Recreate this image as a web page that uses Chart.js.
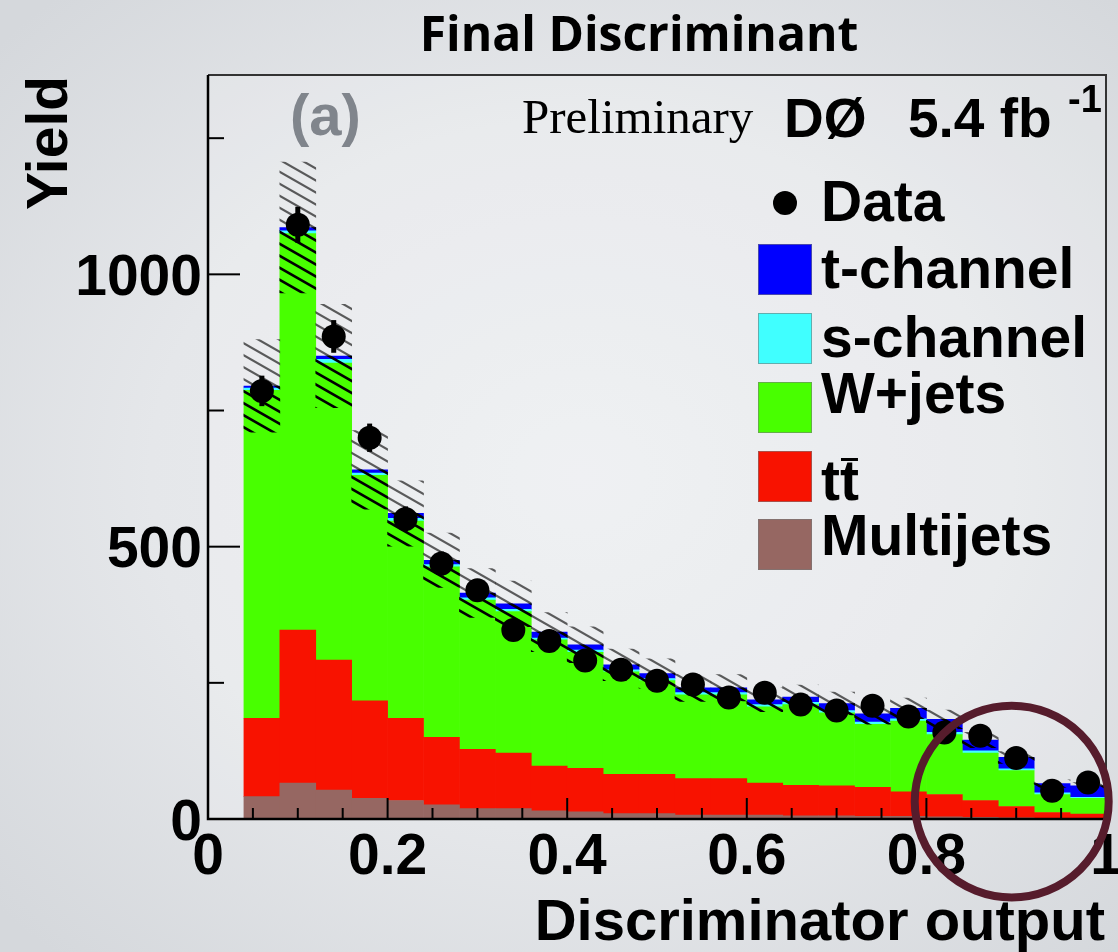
<!DOCTYPE html>
<html>
<head>
<meta charset="utf-8">
<script src="https://cdn.jsdelivr.net/npm/chart.js@4.4.0/dist/chart.umd.min.js"></script>
<style>
  html, body { margin: 0; padding: 0; width: 1118px; height: 952px; overflow: hidden; }
  body { background: radial-gradient(ellipse 70% 68% at 52% 50%, #eceef1 0%, #e5e7ea 55%, #d5d8dc 100%); }
  #wrap { position: relative; width: 1118px; height: 952px; }
  canvas { display: block; }
</style>
</head>
<body>
<div id="wrap"><canvas id="c" width="1118" height="952"></canvas></div>
<script>
// Discriminator bins (width 0.04, from 0.04 to 1.00), given by their centres
const binCenters = [0.06, 0.10, 0.14, 0.18, 0.22, 0.26, 0.30, 0.34, 0.38, 0.42, 0.46, 0.50,
                    0.54, 0.58, 0.62, 0.66, 0.70, 0.74, 0.78, 0.82, 0.86, 0.90, 0.94, 0.98];

// Expected yields per process (stacked bottom to top)
const multijets = [41, 66, 53, 38, 34, 26, 19, 19, 15, 13, 10, 10, 7, 7, 7, 6, 6, 5, 5, 4, 3, 2, 1, 1];
const ttbar     = [144, 281, 239, 179, 151, 124, 109, 102, 82, 80, 72, 72, 67, 67, 59, 56, 55, 53, 45, 41, 31, 21, 11, 8];
const wjets     = [602, 728, 545, 414, 362, 313, 274, 260, 232, 213, 188, 172, 154, 154, 140, 148, 134, 116, 130, 110, 87, 66, 33, 29];
const sChannel  = [4, 5, 7, 4, 5, 4, 4, 4, 3, 4, 4, 4, 4, 4, 4, 4, 4, 4, 4, 4, 4, 3, 3, 2];
const tChannel  = [4, 6, 6, 6, 9, 8, 9, 10, 11, 10, 9, 9, 9, 9, 9, 10, 13, 15, 19, 24, 20, 21, 17, 21];

// Systematic uncertainty on the total prediction (hatched band)
const modelUnc  = [85, 120, 95, 72, 60, 50, 45, 42, 36, 33, 29, 27, 25, 24, 22, 22, 21, 19, 19, 17, 14, 11, 7, 6];

// Observed events and their statistical errors
const dataCounts = [786, 1091, 886, 700, 551, 469, 420, 347, 327, 291, 274, 254, 247, 223, 232, 210, 199, 208, 188, 159, 153, 112, 52, 67];
const dataErrors = [28, 33, 30, 26, 23, 22, 20, 19, 18, 17, 17, 16, 16, 15, 15, 14, 14, 14, 14, 13, 12, 11, 7, 8];

// Axis ticks
const xTickValues = [0, 0.2, 0.4, 0.6, 0.8, 1];
const xTickLabels = ['0', '0.2', '0.4', '0.6', '0.8', '1'];
const yTickValues = [0, 500, 1000];
const yTickLabels = ['0', '500', '1000'];
const yMinorTicks = [250, 750, 1250];
const xMinorStep = 0.05;
const xRange = [0, 1];
const yRange = [0, 1366];

// Process names and colours, in stacking order
const seriesNames  = ['Multijets', 'tt\u0304', 'W+jets', 's-channel', 't-channel'];
const seriesColors = ['#966762', '#f81200', '#48ff00', '#40ffff', '#0000ff'];
const seriesValues = [multijets, ttbar, wjets, sChannel, tChannel];

// Region circled on the plot (in axis units)
const highlight = { x: 0.895, y: 32, rx: 0.108, ry: 176 };

const total = binCenters.map((_, i) => seriesValues.reduce((s, arr) => s + arr[i], 0));

const canvas = document.getElementById('c');
const ctx0 = canvas.getContext('2d');

function hatchPattern(color, width) {
  const w = 21, h = 12;
  const tile = document.createElement('canvas');
  tile.width = w; tile.height = h;
  const g = tile.getContext('2d');
  g.strokeStyle = color;
  g.lineWidth = width;
  for (let k = -1; k <= 1; k++) {
    g.beginPath();
    g.moveTo(-3, h * k - 3 * h / w);
    g.lineTo(w + 3, h * k + (w + 3) * h / w);
    g.stroke();
  }
  return ctx0.createPattern(tile, 'repeat');
}

const SANS = '"Liberation Sans", Arial, sans-serif';

const stackSets = seriesNames.map((name, k) => ({
  type: 'bar',
  label: name,
  data: binCenters.map((c, i) => ({ x: c, y: seriesValues[k][i] })),
  backgroundColor: seriesColors[k],
  borderWidth: 0,
  yAxisID: 'y',
  grouped: false,
  barPercentage: 1,
  categoryPercentage: 1
}));

const datasets = [
  {
    type: 'line',
    label: 'Data',
    data: binCenters.map((c, i) => ({ x: c, y: dataCounts[i] })),
    showLine: false,
    pointRadius: 12,
    pointBackgroundColor: '#000',
    pointBorderColor: '#000',
    pointBorderWidth: 0,
    yAxisID: 'yb'
  },
  {
    type: 'bar',
    label: 'unc-low',
    data: binCenters.map((c, i) => ({ x: c, y: [total[i] - modelUnc[i], total[i]] })),
    backgroundColor: hatchPattern('#000', 2.6),
    borderWidth: 0,
    yAxisID: 'yb',
    grouped: false,
    barPercentage: 1,
    categoryPercentage: 1
  },
  {
    type: 'bar',
    label: 'unc-high',
    data: binCenters.map((c, i) => ({ x: c, y: [total[i], total[i] + modelUnc[i]] })),
    backgroundColor: hatchPattern('rgba(40,40,40,0.75)', 2.2),
    borderWidth: 0,
    yAxisID: 'yb',
    grouped: false,
    barPercentage: 1,
    categoryPercentage: 1
  },
  ...stackSets
];

const decor = {
  id: 'decor',
  beforeDatasetsDraw(chart) {
    const { ctx, chartArea: a } = chart;
    ctx.save();
    ctx.fillStyle = 'rgba(255,255,255,0.16)';
    ctx.fillRect(a.left, a.top, a.right - a.left, a.bottom - a.top);
    ctx.restore();
  },
  afterDatasetsDraw(chart) {
    const { ctx, chartArea: a } = chart;
    const xs = chart.scales.x, yb = chart.scales.yb;
    ctx.save();
    // statistical error bars on the data points
    ctx.strokeStyle = '#000';
    ctx.lineWidth = 5;
    binCenters.forEach((c, i) => {
      const px = xs.getPixelForValue(c);
      ctx.beginPath();
      ctx.moveTo(px, yb.getPixelForValue(dataCounts[i] - dataErrors[i]));
      ctx.lineTo(px, yb.getPixelForValue(dataCounts[i] + dataErrors[i]));
      ctx.stroke();
    });

    // inward ticks
    ctx.strokeStyle = '#000';
    ctx.lineWidth = 2;
    yTickValues.forEach(v => {
      const py = yb.getPixelForValue(v);
      ctx.beginPath(); ctx.moveTo(a.left, py); ctx.lineTo(a.left + 32, py); ctx.stroke();
    });
    yMinorTicks.forEach(v => {
      const py = yb.getPixelForValue(v);
      ctx.beginPath(); ctx.moveTo(a.left, py); ctx.lineTo(a.left + 16, py); ctx.stroke();
    });
    for (let k = 1; k * xMinorStep < xRange[1] - 1e-9; k++) {
      const v = k * xMinorStep;
      const major = Math.abs(v * 5 - Math.round(v * 5)) < 1e-6;
      const px = xs.getPixelForValue(v);
      ctx.beginPath(); ctx.moveTo(px, a.bottom); ctx.lineTo(px, a.bottom - (major ? 21 : 11)); ctx.stroke();
    }

    // frame
    ctx.strokeStyle = '#333';
    ctx.lineWidth = 2;
    ctx.beginPath();
    ctx.moveTo(a.left, a.top); ctx.lineTo(a.right, a.top); ctx.lineTo(a.right, a.bottom);
    ctx.stroke();
    ctx.strokeStyle = '#000';
    ctx.lineWidth = 2.5;
    ctx.beginPath();
    ctx.moveTo(a.left, a.top); ctx.lineTo(a.left, a.bottom); ctx.lineTo(a.right, a.bottom);
    ctx.stroke();
    ctx.restore();
  },
  afterDraw(chart) {
    const { ctx, chartArea: a } = chart;
    const xs = chart.scales.x, yb = chart.scales.yb;
    ctx.save();
    ctx.fillStyle = '#000';

    // tick labels
    ctx.font = 'bold 57px ' + SANS;
    ctx.textAlign = 'right';
    ctx.textBaseline = 'alphabetic';
    yTickValues.forEach((v, i) => {
      ctx.fillText(yTickLabels[i], a.left - 6, yb.getPixelForValue(v) + 20.5);
    });
    ctx.textAlign = 'center';
    xTickValues.forEach((v, i) => {
      ctx.fillText(xTickLabels[i], xs.getPixelForValue(v), a.bottom + 55);
    });

    // axis titles
    ctx.font = 'bold 58px ' + SANS;
    ctx.textAlign = 'right';
    ctx.fillText('Discriminator output', a.right - 1, 940);
    ctx.save();
    ctx.translate(67, 143);
    ctx.rotate(-Math.PI / 2);
    ctx.textAlign = 'center';
    ctx.font = 'bold 57px ' + SANS;
    ctx.fillText('Yield', 0, 0);
    ctx.restore();

    // title
    ctx.textAlign = 'center';
    ctx.font = 'bold 48px "Open Sans", Lato, sans-serif';
    ctx.fillText('Final Discriminant', 639, 51);

    // panel tag and experiment label
    ctx.textAlign = 'left';
    ctx.font = 'bold 58px ' + SANS;
    ctx.fillStyle = '#80858c';
    ctx.fillText('(a)', 290, 135);
    ctx.fillStyle = '#000';
    ctx.font = '49px "Liberation Serif", "Times New Roman", serif';
    ctx.fillText('Preliminary', 522, 133);
    ctx.font = 'bold 55px ' + SANS;
    ctx.fillText('D\u00d8', 784, 137);
    ctx.fillText('5.4 fb', 908, 137);
    ctx.font = 'bold 38px ' + SANS;
    ctx.fillText('-1', 1068, 112);

    // legend
    ctx.font = 'bold 57px ' + SANS;
    ctx.beginPath();
    ctx.arc(785, 203, 12, 0, Math.PI * 2);
    ctx.fill();
    ctx.fillText('Data', 821, 221);
    const boxTops = [519, 451, 382, 313, 244];
    const textBase = [555, 500, 413, 357, 288];
    for (let k = seriesNames.length - 1; k >= 0; k--) {
      ctx.fillStyle = seriesColors[k];
      ctx.fillRect(758, boxTops[k], 54, 51);
      ctx.strokeStyle = 'rgba(120,120,120,0.6)';
      ctx.lineWidth = 1;
      ctx.strokeRect(758.5, boxTops[k] + 0.5, 53, 50);
      ctx.fillStyle = '#000';
      const name = seriesNames[k];
      if (name.indexOf('\u0304') >= 0) {
        const base = name.replace('\u0304', '');
        ctx.fillText(base, 821, textBase[k]);
        const wAll = ctx.measureText(base).width;
        const wLast = ctx.measureText(base.slice(-1)).width;
        ctx.fillRect(821 + wAll - wLast + 1, textBase[k] - 42, wLast - 2, 3);
      } else {
        ctx.fillText(name, 821, textBase[k]);
      }
    }

    // circled region
    const cx = xs.getPixelForValue(highlight.x);
    const cy = yb.getPixelForValue(highlight.y);
    const rx = xs.getPixelForValue(highlight.x + highlight.rx) - cx;
    const ry = cy - yb.getPixelForValue(highlight.y + highlight.ry);
    ctx.strokeStyle = '#561c2c';
    ctx.lineWidth = 8;
    ctx.beginPath();
    ctx.ellipse(cx, cy, rx, ry, 0, 0, Math.PI * 2);
    ctx.stroke();
    ctx.restore();
  }
};

new Chart(canvas, {
  type: 'bar',
  data: { datasets },
  options: {
    responsive: false,
    animation: false,
    devicePixelRatio: 1,
    layout: { padding: { left: 208, top: 75, right: 9, bottom: 133 } },
    plugins: { legend: { display: false }, tooltip: { enabled: false }, title: { display: false } },
    scales: {
      x: { type: 'linear', min: xRange[0], max: xRange[1], display: false, offset: false },
      y: { type: 'linear', min: yRange[0], max: yRange[1], stacked: true, display: false },
      yb: { type: 'linear', min: yRange[0], max: yRange[1], stacked: false, display: false }
    }
  },
  plugins: [decor]
});
</script>
</body>
</html>
